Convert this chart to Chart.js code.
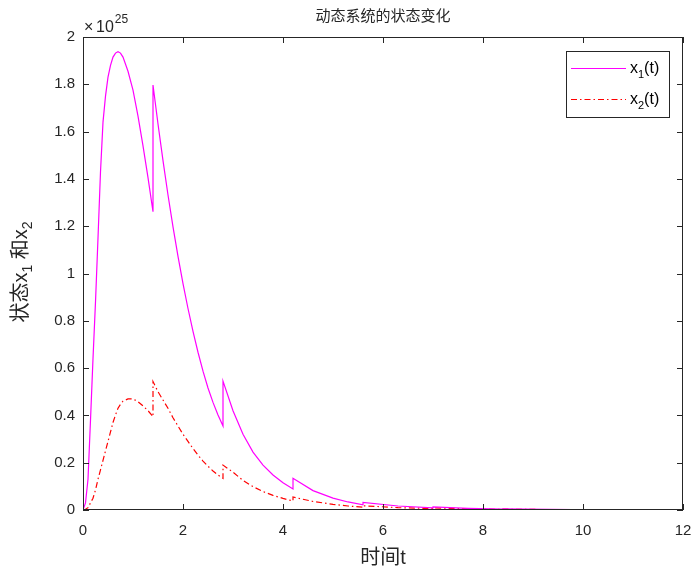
<!DOCTYPE html>
<html>
<head>
<meta charset="utf-8">
<script src="https://cdn.jsdelivr.net/npm/chart.js@4"></script>
<style>
  html, body { margin: 0; padding: 0; background: #fff; }
  canvas { display: block; }
</style>
</head>
<body>
<canvas id="stateChart" width="693" height="570"></canvas>
<script>
// time samples (jump instants are listed twice)
const tVals = [
  0, 0.05, 0.1, 0.15, 0.2, 0.25, 0.3, 0.35, 0.4, 0.45, 0.5, 0.55, 0.6, 0.65, 0.7, 0.75, 0.8, 0.9, 1.0, 1.1, 1.2, 1.3, 1.4,
  1.4, 1.5, 1.6, 1.7, 1.8, 1.9, 2.0, 2.1, 2.2, 2.3, 2.4, 2.5, 2.6, 2.7, 2.8,
  2.8, 3.0, 3.2, 3.4, 3.6, 3.8, 4.0, 4.2,
  4.2, 4.6, 5.0, 5.3, 5.6,
  5.6, 6.3, 7.0,
  7.0, 7.7, 8.4,
  8.4, 9.8, 11.2, 12
];
// state values, in units of 1e25
const x1Vals = [
  0, 0.03, 0.13, 0.38, 0.64, 0.88, 1.15, 1.43, 1.64, 1.75, 1.83, 1.88, 1.915, 1.932, 1.938, 1.932, 1.915, 1.855, 1.775, 1.665, 1.54, 1.405, 1.261,
  1.797, 1.632, 1.477, 1.332, 1.197, 1.072, 0.957, 0.852, 0.755, 0.667, 0.587, 0.516, 0.455, 0.402, 0.355,
  0.545, 0.42, 0.32, 0.245, 0.19, 0.148, 0.115, 0.089,
  0.134, 0.082, 0.05, 0.034, 0.022,
  0.032, 0.017, 0.009,
  0.0135, 0.007, 0.0035,
  0.005, 0.0012, 0.0003, 0.0001
];
const x2Vals = [
  0, 0.003, 0.01, 0.03, 0.05, 0.085, 0.13, 0.17, 0.21, 0.25, 0.29, 0.33, 0.37, 0.402, 0.43, 0.447, 0.46, 0.47, 0.47, 0.458, 0.44, 0.42, 0.395,
  0.543, 0.50, 0.465, 0.43, 0.39, 0.355, 0.32, 0.29, 0.26, 0.232, 0.207, 0.185, 0.165, 0.148, 0.134,
  0.19, 0.16, 0.125, 0.099, 0.078, 0.062, 0.049, 0.038,
  0.055, 0.036, 0.024, 0.017, 0.012,
  0.018, 0.01, 0.006,
  0.009, 0.005, 0.0025,
  0.0035, 0.0008, 0.0002, 0.0001
];
const xTicks = [0, 2, 4, 6, 8, 10, 12];
const yTicks = [0, 0.2, 0.4, 0.6, 0.8, 1, 1.2, 1.4, 1.6, 1.8, 2];

const FONT = '"Liberation Sans", Arial, "Noto Sans CJK SC", sans-serif';
const INK = '#262626';

// draws text pieces, subscripts drop below the baseline
function drawRich(ctx, parts, x, y) {
  let cx = x;
  parts.forEach(p => {
    ctx.font = p.size + 'px ' + FONT;
    ctx.fillText(p.text, cx, y + (p.dy || 0));
    cx += ctx.measureText(p.text).width;
  });
  return cx - x;
}
function richWidth(ctx, parts) {
  let w = 0;
  parts.forEach(p => {
    ctx.font = p.size + 'px ' + FONT;
    w += ctx.measureText(p.text).width;
  });
  return w;
}

const decorPlugin = {
  id: 'decor',
  afterDraw(chart) {
    const ctx = chart.ctx;
    const a = chart.chartArea;
    const xs = chart.scales.x, ys = chart.scales.y;
    ctx.save();
    ctx.strokeStyle = INK;
    ctx.fillStyle = INK;
    ctx.lineWidth = 1;
    ctx.setLineDash([]);
    // box
    ctx.strokeRect(Math.round(a.left) + 0.5, Math.round(a.top) + 0.5,
      Math.round(a.right - a.left) - 1, Math.round(a.bottom - a.top) - 1);
    // inward ticks
    ctx.beginPath();
    xTicks.forEach(v => {
      const px = Math.round(xs.getPixelForValue(v)) + 0.5;
      ctx.moveTo(px, a.bottom); ctx.lineTo(px, a.bottom - 6);
      ctx.moveTo(px, a.top); ctx.lineTo(px, a.top + 6);
    });
    yTicks.forEach(v => {
      const py = Math.round(ys.getPixelForValue(v)) + 0.5;
      ctx.moveTo(a.left, py); ctx.lineTo(a.left + 6, py);
      ctx.moveTo(a.right, py); ctx.lineTo(a.right - 6, py);
    });
    ctx.stroke();

    // title
    ctx.textAlign = 'center';
    ctx.textBaseline = 'middle';
    ctx.font = '15px ' + FONT;
    ctx.fillText('动态系统的状态变化', (a.left + a.right) / 2, 17);

    // x axis title
    ctx.font = '20px ' + FONT;
    ctx.fillText('时间t', (a.left + a.right) / 2, 558);

    // exponent
    ctx.textAlign = 'left';
    ctx.textBaseline = 'alphabetic';
    ctx.font = '16px ' + FONT;
    ctx.fillText('\u00d7', a.left + 1, 32);
    ctx.fillText('10', a.left + 13, 32);
    const w10 = ctx.measureText('10').width;
    ctx.font = '12px ' + FONT;
    ctx.fillText('25', a.left + 13 + w10 + 1, 23);

    // y axis title, rotated
    const yParts = [
      { text: '状态x', size: 20 },
      { text: '1', size: 14, dy: 5 },
      { text: ' 和x', size: 20 },
      { text: '2', size: 14, dy: 5 }
    ];
    ctx.save();
    ctx.translate(27, 272);
    ctx.rotate(-Math.PI / 2);
    drawRich(ctx, yParts, -richWidth(ctx, yParts) / 2, 0);
    ctx.restore();

    // legend
    const lx = 566, ly = 51, lw = 103, lh = 66;
    ctx.fillStyle = '#fff';
    ctx.fillRect(lx, ly, lw, lh);
    ctx.strokeStyle = INK;
    ctx.strokeRect(lx + 0.5, ly + 0.5, lw, lh);
    const rows = [
      { y: 68, sub: '1', color: '#ff00ff', dash: [] },
      { y: 99, sub: '2', color: '#ff0000', dash: [6, 3, 1.5, 3] }
    ];
    rows.forEach(r => {
      ctx.strokeStyle = r.color;
      ctx.lineWidth = 1.2;
      ctx.setLineDash(r.dash);
      ctx.beginPath();
      ctx.moveTo(571, r.y + 0.5);
      ctx.lineTo(626, r.y + 0.5);
      ctx.stroke();
      ctx.setLineDash([]);
      ctx.fillStyle = '#000';
      drawRich(ctx, [
        { text: 'x', size: 16 },
        { text: r.sub, size: 11, dy: 5 },
        { text: '(t)', size: 16 }
      ], 630, r.y + 4.5);
    });
    ctx.restore();
  }
};

const toPoints = vals => tVals.map((t, i) => ({ x: t, y: vals[i] }));

new Chart(document.getElementById('stateChart').getContext('2d'), {
  type: 'line',
  data: {
    datasets: [
      {
        label: 'x1(t)',
        data: toPoints(x1Vals),
        borderColor: '#ff00ff',
        borderWidth: 1.2,
        pointRadius: 0,
        tension: 0,
        fill: false
      },
      {
        label: 'x2(t)',
        data: toPoints(x2Vals),
        borderColor: '#ff0000',
        borderWidth: 1.2,
        borderDash: [6, 3, 1.5, 3],
        pointRadius: 0,
        tension: 0,
        fill: false
      }
    ]
  },
  options: {
    responsive: false,
    animation: false,
    layout: { padding: { top: 37, right: 10, left: 0, bottom: 0 } },
    plugins: {
      legend: { display: false },
      title: { display: false },
      tooltip: { enabled: false }
    },
    scales: {
      x: {
        type: 'linear',
        min: 0,
        max: 12,
        afterFit: s => { s.height = 60; s.paddingLeft = 0; s.paddingRight = 0; },
        afterBuildTicks: s => { s.ticks = xTicks.map(v => ({ value: v })); },
        grid: { display: false, drawTicks: false },
        border: { display: false },
        ticks: { color: INK, font: { size: 15, family: FONT }, padding: 12, maxRotation: 0 }
      },
      y: {
        type: 'linear',
        min: 0,
        max: 2,
        afterFit: s => { s.width = 83; s.paddingTop = 0; s.paddingBottom = 0; },
        afterBuildTicks: s => { s.ticks = yTicks.map(v => ({ value: v })); },
        grid: { display: false, drawTicks: false },
        border: { display: false },
        ticks: {
          color: INK,
          font: { size: 15, family: FONT },
          padding: 8,
          callback: v => String(+v.toFixed(1))
        }
      }
    }
  },
  plugins: [decorPlugin]
});
</script>
</body>
</html>
